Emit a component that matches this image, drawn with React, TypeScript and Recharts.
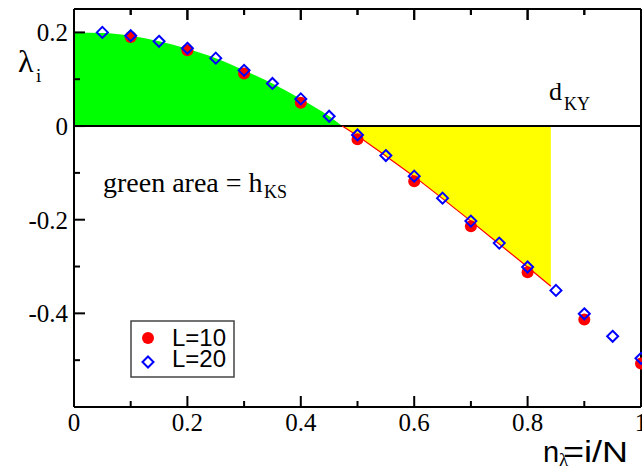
import React from 'react';
import { ComposedChart, XAxis, YAxis, Area, Line, Scatter, ReferenceLine } from 'recharts';

const curveX = [0, 0.05, 0.1, 0.15, 0.2, 0.25, 0.3, 0.35, 0.4, 0.45, 0.473, 0.5, 0.55, 0.6, 0.65, 0.7, 0.75, 0.8, 0.841];
const curveY = [0.2, 0.199, 0.193, 0.181, 0.165, 0.145, 0.119, 0.091, 0.058, 0.021, 0, -0.021, -0.064, -0.108, -0.155, -0.203, -0.252, -0.301, -0.342];
const hksEnd = 0.473;
const dkyEnd = 0.841;

const l10X = [0.1, 0.2, 0.3, 0.4, 0.5, 0.6, 0.7, 0.8, 0.9, 1.0];
const l10Y = [0.19, 0.162, 0.112, 0.05, -0.028, -0.118, -0.214, -0.312, -0.413, -0.507];
const l20X = [0.05, 0.1, 0.15, 0.2, 0.25, 0.3, 0.35, 0.4, 0.45, 0.5, 0.55, 0.6, 0.65, 0.7, 0.75, 0.8, 0.85, 0.9, 0.95, 1.0];
const l20Y = [0.2, 0.193, 0.181, 0.166, 0.145, 0.119, 0.091, 0.058, 0.021, -0.019, -0.063, -0.107, -0.154, -0.203, -0.25, -0.301, -0.351, -0.401, -0.449, -0.496];

const xTicks = [0, 0.1, 0.2, 0.3, 0.4, 0.5, 0.6, 0.7, 0.8, 0.9, 1];
const yTicks = [-0.5, -0.4, -0.3, -0.2, -0.1, 0, 0.1, 0.2];
const yDomain = [-0.6, 0.25];
const legendLabels = ['L=10', 'L=20'];

const areaData = curveX.map((x, i) => ({
  x,
  green: x <= hksEnd ? curveY[i] : null,
  yellow: x >= hksEnd && x <= dkyEnd ? curveY[i] : null,
}));
const l10Data = l10X.map((x, i) => ({ x, y: l10Y[i] }));
const l20Data = l20X.map((x, i) => ({ x, y: l20Y[i] }));
const innerXTicks = xTicks.filter((x) => x > 0 && x < 1);

const SERIF = '"Liberation Serif", "Times New Roman", serif';
const SANS = '"Liberation Sans", Arial, sans-serif';
const PLOT_LEFT = 74;
const PLOT_TOP = 9;
const PLOT_W = 567;

const isMajor = (v: number) => Math.abs(Math.round(v * 10)) % 2 === 0;
const fmt = (v: number) => (Math.abs(v) < 1e-9 ? '0' : (Math.round(v * 10) / 10).toFixed(1).replace(/\.0$/, ''));
const tickLen = (v: number) => (isMajor(v) ? 0.0235 : 0.0128);

const LeftTick = (p: any) => {
  const v = p.payload.value;
  const maj = isMajor(v);
  return (
    <g>
      <line x1={p.x} x2={p.x + (maj ? 11 : 6)} y1={p.y} y2={p.y} stroke="#000" strokeWidth={2} />
      {maj && (
        <text x={p.x - 6} y={p.y + 9} textAnchor="end" fontFamily={SERIF} fontSize={25} fill="#000">
          {fmt(v)}
        </text>
      )}
    </g>
  );
};
const RightTick = (p: any) => {
  const maj = isMajor(p.payload.value);
  return <line x1={p.x} x2={p.x - (maj ? 11 : 6)} y1={p.y} y2={p.y} stroke="#000" strokeWidth={2} />;
};
const BottomTick = (p: any) => {
  const v = p.payload.value;
  const maj = isMajor(v);
  const len = maj ? 11 : 6;
  return (
    <g>
      <line x1={p.x} x2={p.x} y1={p.y} y2={p.y - len} stroke="#000" strokeWidth={2} />
      {maj && (
        <text x={p.x} y={p.y + 24} textAnchor="middle" fontFamily={SERIF} fontSize={25} fill="#000">
          {fmt(v)}
        </text>
      )}
    </g>
  );
};

const Circle = (p: any) => <circle cx={p.cx} cy={p.cy} r={6} fill="#ff0000" />;
const Diamond = (p: any) => {
  const s = 5.5;
  return (
    <path
      d={`M${p.cx},${p.cy - s}L${p.cx + s},${p.cy}L${p.cx},${p.cy + s}L${p.cx - s},${p.cy}Z`}
      fill="none"
      stroke="#0000ff"
      strokeWidth={2}
    />
  );
};

const axisLine = { stroke: '#000', strokeWidth: 2 };

export default function App() {
  return (
    <div style={{ position: 'absolute', left: 0, top: 0, width: 642, height: 470, background: '#fff' }}>
      <ComposedChart
        width={642}
        height={470}
        data={areaData}
        margin={{ top: PLOT_TOP, right: 0, bottom: 0, left: 0 }}
      >
        <XAxis
          dataKey="x"
          type="number"
          domain={[0, 1]}
          ticks={xTicks}
          height={63}
          axisLine={axisLine}
          tickLine={false}
          tickSize={0}
          tickMargin={0}
          tick={BottomTick}
          interval={0}
        />
        <YAxis
          type="number"
          domain={yDomain}
          ticks={yTicks}
          width={PLOT_LEFT}
          axisLine={axisLine}
          tickLine={false}
          tickSize={0}
          tickMargin={0}
          tick={LeftTick}
          interval={0}
        />
        <YAxis
          yAxisId="r"
          orientation="right"
          type="number"
          domain={yDomain}
          ticks={yTicks}
          width={1}
          axisLine={axisLine}
          tickLine={false}
          tickSize={0}
          tickMargin={0}
          tick={RightTick}
          interval={0}
        />
        <Area
          dataKey="green"
          type="monotone"
          fill="#00ff00"
          fillOpacity={1}
          stroke="none"
          isAnimationActive={false}
          connectNulls={false}
        />
        <Area
          dataKey="yellow"
          type="monotone"
          fill="#ffff00"
          fillOpacity={1}
          stroke="none"
          isAnimationActive={false}
          connectNulls={false}
        />
        <ReferenceLine y={0} stroke="#000" strokeWidth={2} />
        <ReferenceLine y={yDomain[1]} stroke="#000" strokeWidth={2} />
        {innerXTicks.map((v) => (
          <ReferenceLine
            key={v}
            segment={[
              { x: v, y: yDomain[1] },
              { x: v, y: yDomain[1] - tickLen(v) },
            ]}
            stroke="#000"
            strokeWidth={2}
            ifOverflow="visible"
          />
        ))}
        <Line
          dataKey="yellow"
          type="monotone"
          stroke="#ff0000"
          strokeWidth={1.2}
          dot={false}
          isAnimationActive={false}
          connectNulls={false}
        />
        <Scatter data={l10Data} dataKey="y" shape={Circle} isAnimationActive={false} />
        <Scatter data={l20Data} dataKey="y" shape={Diamond} isAnimationActive={false} />
      </ComposedChart>
      <svg
        width={642}
        height={470}
        style={{ position: 'absolute', left: 0, top: 0, pointerEvents: 'none' }}
      >
        {innerXTicks.map((v) => (
          <line
            key={v}
            x1={PLOT_LEFT + v * PLOT_W}
            x2={PLOT_LEFT + v * PLOT_W}
            y1={PLOT_TOP}
            y2={PLOT_TOP + (isMajor(v) ? 11 : 6)}
            stroke="#000"
            strokeWidth={2}
          />
        ))}
        <text x={18} y={72} fontFamily={SERIF} fontSize={32} fill="#000">λ</text>
        <text x={36} y={82} fontFamily={SERIF} fontSize={19} fill="#000">i</text>

        <text x={549} y={100} fontFamily={SERIF} fontSize={26} fill="#000">d</text>
        <text x={564} y={110} fontFamily={SERIF} fontSize={18} fill="#000">KY</text>

        <text x={103} y={192} fontFamily={SERIF} fontSize={28} fill="#000">green area = h</text>
        <text x={264} y={198} fontFamily={SERIF} fontSize={18} fill="#000">KS</text>

        <text x={543} y={462} fontFamily={SANS} fontSize={29} fill="#000">n</text>
        <text x={559} y={466} fontFamily={SERIF} fontSize={19} fill="#000">λ</text>
        <text
          x={563}
          y={462}
          fontFamily={SANS}
          fontSize={29}
          fill="#000"
          textLength={65}
          lengthAdjust="spacingAndGlyphs"
        >
          =i/N
        </text>

        <rect x={131} y={321} width={103} height={56} fill="#fff" stroke="#444" strokeWidth={1.5} />
        <circle cx={148} cy={338} r={6} fill="#ff0000" />
        <path d="M148,356.5L153.5,362L148,367.5L142.5,362Z" fill="none" stroke="#0000ff" strokeWidth={2} />
        <text x={172} y={346} fontFamily={SANS} fontSize={24} fill="#000">{legendLabels[0]}</text>
        <text x={172} y={367} fontFamily={SANS} fontSize={24} fill="#000">{legendLabels[1]}</text>
      </svg>
    </div>
  );
}
